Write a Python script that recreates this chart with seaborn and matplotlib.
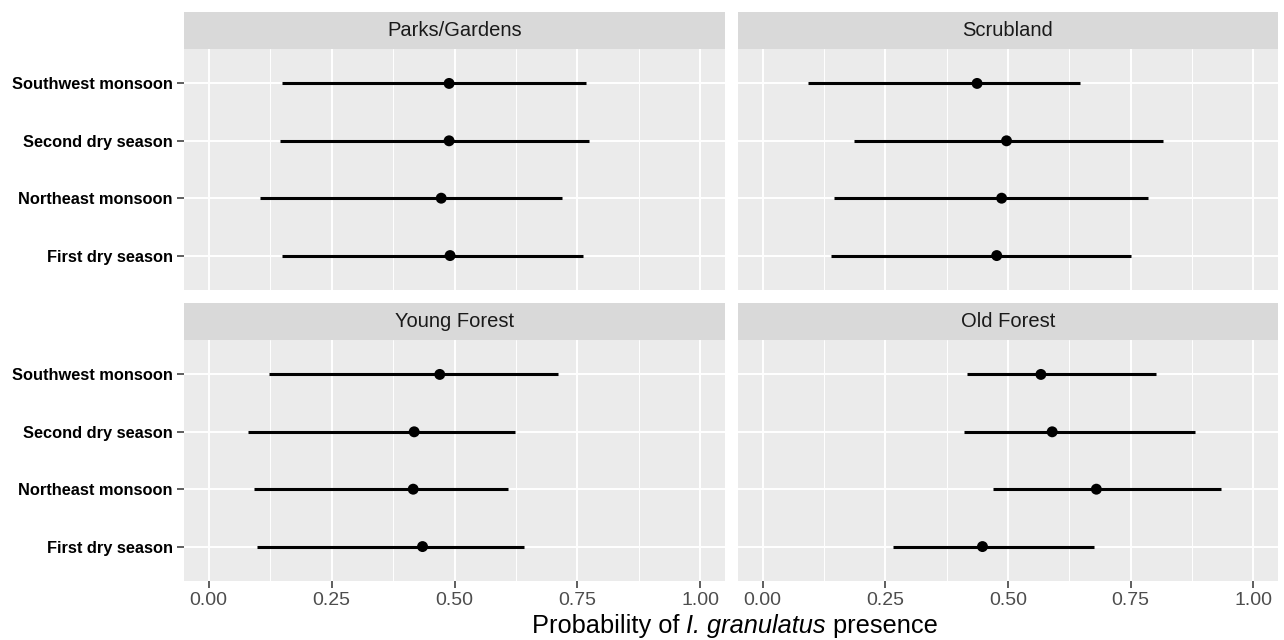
import matplotlib
matplotlib.use("Agg")
import matplotlib.pyplot as plt
import numpy as np
import pandas as pd
import seaborn as sns
from matplotlib.ticker import FixedLocator

# ---- data -------------------------------------------------------------
habitats = ["Parks/Gardens", "Scrubland", "Young Forest", "Old Forest"]
seasons = ["First dry season", "Northeast monsoon", "Second dry season", "Southwest monsoon"]

# estimated probability and interval bounds, in the order of `seasons`
parks_est = [0.491, 0.473, 0.489, 0.489]
parks_lo = [0.149, 0.104, 0.145, 0.150]
parks_hi = [0.761, 0.719, 0.773, 0.768]

scrub_est = [0.477, 0.487, 0.497, 0.437]
scrub_lo = [0.140, 0.145, 0.187, 0.093]
scrub_hi = [0.751, 0.785, 0.816, 0.646]

young_est = [0.435, 0.416, 0.418, 0.470]
young_lo = [0.099, 0.092, 0.080, 0.122]
young_hi = [0.642, 0.608, 0.624, 0.711]

old_est = [0.448, 0.680, 0.590, 0.567]
old_lo = [0.265, 0.470, 0.411, 0.417]
old_hi = [0.675, 0.933, 0.880, 0.802]

xticks = [0.00, 0.25, 0.50, 0.75, 1.00]
xtick_labels = ["0.00", "0.25", "0.50", "0.75", "1.00"]

est_by_hab = [parks_est, scrub_est, young_est, old_est]
lo_by_hab = [parks_lo, scrub_lo, young_lo, old_lo]
hi_by_hab = [parks_hi, scrub_hi, young_hi, old_hi]

rows = []
for h, est, lo, hi in zip(habitats, est_by_hab, lo_by_hab, hi_by_hab):
    for i, s in enumerate(seasons):
        rows.append({"habitat": h, "season": s, "ypos": i,
                     "est": est[i], "lo": lo[i], "hi": hi[i]})
df = pd.DataFrame(rows)

# ---- style --------------------------------------------------------------
sns.set_theme(style="darkgrid")
plt.rcParams["font.family"] = ["Liberation Sans", "DejaVu Sans"]

W, H = 1284, 640
fig = plt.figure(figsize=(W / 100, H / 100), dpi=100)
fig.patch.set_facecolor("white")


def rect(l, t, r, b):
    return [l / W, 1 - b / H, (r - l) / W, (b - t) / H]


panels = {
    "Parks/Gardens": (184, 49, 725, 290),
    "Scrubland": (738, 49, 1278, 290),
    "Young Forest": (184, 340, 725, 581),
    "Old Forest": (738, 340, 1278, 581),
}
strip_h = 37

for idx, h in enumerate(habitats):
    l, t, r, b = panels[h]
    ax = fig.add_axes(rect(l, t, r, b))
    ax.set_facecolor("#EBEBEB")
    sub = df[df["habitat"] == h]

    # intervals then point estimates
    ax.hlines(sub["ypos"], sub["lo"], sub["hi"], color="black", lw=2.2, zorder=2)
    sns.scatterplot(data=sub, x="est", y="ypos", ax=ax, color="black",
                    s=62, edgecolor="none", linewidth=0, zorder=3, legend=False)

    ax.set_xlim(-0.05, 1.05)
    ax.set_ylim(-0.6, len(seasons) - 0.4)
    ax.xaxis.set_major_locator(FixedLocator(xticks))
    ax.xaxis.set_minor_locator(FixedLocator([0.125, 0.375, 0.625, 0.875]))
    ax.yaxis.set_major_locator(FixedLocator(range(len(seasons))))
    ax.yaxis.set_minor_locator(FixedLocator([]))

    ax.grid(which="major", color="white", lw=1.4)
    ax.grid(which="minor", axis="x", color="white", lw=0.7)
    ax.set_axisbelow(True)
    for sp in ax.spines.values():
        sp.set_visible(False)

    ax.set_xlabel("")
    ax.set_ylabel("")

    left_col = idx % 2 == 0
    bottom_row = idx >= 2

    if left_col:
        ax.set_yticklabels(seasons, fontsize=11.8, fontweight="bold", color="black")
        ax.tick_params(axis="y", which="major", length=5, width=1.1,
                       color="#333333", pad=3, left=True)
    else:
        ax.set_yticklabels([])
        ax.tick_params(axis="y", which="major", length=0, left=False)

    if bottom_row:
        ax.set_xticklabels(xtick_labels, fontsize=14, color="#4D4D4D")
        ax.tick_params(axis="x", which="major", length=5, width=1.1,
                       color="#333333", pad=3, bottom=True)
    else:
        ax.set_xticklabels([])
        ax.tick_params(axis="x", which="major", length=0, bottom=False)
    ax.tick_params(axis="x", which="minor", length=0)

    # facet strip
    sax = fig.add_axes(rect(l, t - strip_h, r, t))
    sax.set_facecolor("#D9D9D9")
    sax.set_xticks([])
    sax.set_yticks([])
    sax.grid(False)
    for sp in sax.spines.values():
        sp.set_visible(False)
    sax.text(0.5, 0.5, h, ha="center", va="center", fontsize=14.5,
             color="#1A1A1A", transform=sax.transAxes)

# shared x-axis title: plain / italic species name / plain, laid out side by side
title_parts = [("Probability of ", "normal"), ("I. granulatus", "italic"), (" presence", "normal")]
renderer = fig.canvas.get_renderer()
pieces = []
total = 0.0
for txt, style in title_parts:
    t_obj = fig.text(0, 0, txt, fontsize=18.3, style=style, color="black",
                     ha="left", va="baseline")
    w = t_obj.get_window_extent(renderer=renderer).width
    pieces.append((t_obj, w))
    total += w
x_px = 735 - total / 2
y_frac = 1 - 633 / H
for t_obj, w in pieces:
    t_obj.set_position((x_px / W, y_frac))
    x_px += w

fig.savefig("out.png", dpi=100)
